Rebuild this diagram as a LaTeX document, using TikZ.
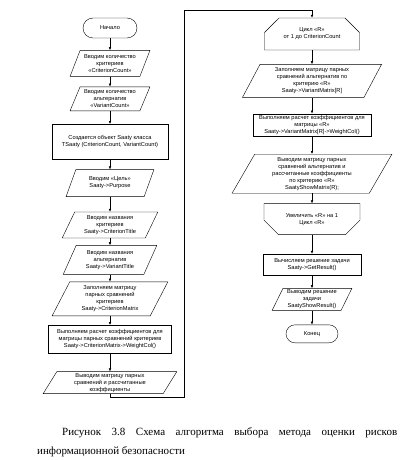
\documentclass[tikz,border=0pt]{standalone}
\usepackage{fontspec}
\setmainfont{Liberation Serif}
\setsansfont{Liberation Sans}
\usetikzlibrary{arrows.meta,positioning,shapes.geometric,shapes.misc}

\begin{document}
\begin{tikzpicture}[x=1pt,y=1pt,
  every node/.style={align=center,font=\sffamily\fontsize{5.7}{7}\selectfont,inner sep=.5pt},
  term/.style={draw,rounded rectangle,minimum width=55pt,minimum height=20pt},
  io/.style={draw,trapezium,trapezium left angle=65,trapezium right angle=115,trapezium stretches=true},
  proc/.style={draw,rectangle},
  loopbeg/.style={draw,chamfered rectangle,chamfered rectangle corners={north west,north east},chamfered rectangle xsep=7pt,chamfered rectangle ysep=8pt},
  loopfin/.style={draw,chamfered rectangle,chamfered rectangle corners={south west,south east},chamfered rectangle xsep=7pt,chamfered rectangle ysep=8pt},
  arr/.style={-{Latex[length=3pt,width=2.6pt]},line width=.5pt}]
\useasboundingbox (0,0) rectangle (416,-460);
% left column
\node[term] (start) at (110,-28) {Начало};
\node[io,minimum width=80pt,minimum height=26pt,below=12pt of start] (critcount) {Вводим количество\\критериев\\«CriterionCount»};
\node[io,minimum width=80pt,minimum height=24pt,below=10pt of critcount] (varcount) {Вводим количество\\альтернатив\\«VariantCount»};
\node[proc,minimum width=116pt,minimum height=35pt,below=13pt of varcount] (saaty) {Создается объект Saaty класса\\TSaaty (CriterionCount, VariantCount)};
\node[io,minimum width=88pt,minimum height=27pt,below=10pt of saaty] (purpose) {Вводим «Цель»\\Saaty->Purpose};
\node[io,minimum width=96pt,minimum height=26pt,below=15pt of purpose] (crittitle) {Вводим названия\\критериев\\Saaty->CriterionTitle};
\node[io,minimum width=94pt,minimum height=29pt,below=7pt of crittitle] (vartitle) {Вводим названия\\альтернатив\\Saaty->VariantTitle};
\node[io,minimum width=116pt,minimum height=34pt,below=7pt of vartitle] (critmatrix) {Заполняем матрицу\\парных сравнений\\критериев\\Saaty->CriterionMatrix};
\node[proc,minimum width=123pt,minimum height=28pt,below=9pt of critmatrix] (critweight) {Выполняем расчет коэффициентов для\\матрицы парных сравнений критериев\\Saaty->CriterionMatrix->WeightCol()};
\node[io,minimum width=134pt,minimum height=22pt,below=18pt of critweight] (critshow) {Выводим матрицу парных\\сравнений и рассчитанные\\коэффициенты};
% right column
\node[loopbeg,minimum width=95pt,minimum height=32pt] (loopR) at (312,-34) {Цикл «R»\\от 1 до CriterionCount};
\node[io,minimum width=140pt,minimum height=33pt,below=14pt of loopR] (varmatrix) {Заполняем матрицу парных\\сравнений альтернатив по\\критерию «R»\\Saaty->VariantMatrix[R]};
\node[proc,minimum width=118pt,minimum height=22pt,below=16pt of varmatrix] (varweight) {Выполняем расчет коэффициентов для\\матрицы «R»\\Saaty->VariantMatrix[R]->WeightCol()};
\node[io,minimum width=160pt,minimum height=39pt,below=18pt of varweight] (varshow) {Выводим матрицу парных\\сравнений альтернатив и\\рассчитанные коэффициенты\\по критерию «R»\\SaatyShowMatrix(R);};
\node[loopfin,minimum width=96pt,minimum height=31pt,below=10pt of varshow] (loopRend) {Увеличить «R» на 1\\Цикл «R»};
\node[proc,minimum width=98pt,minimum height=21pt,below=19pt of loopRend] (result) {Вычисляем решение задачи\\Saaty->GetResult()};
\node[io,minimum width=80pt,minimum height=22pt,below=13pt of result] (resshow) {Выводим решение\\задачи\\SaatyShowResult()};
\node[term,minimum width=53pt,minimum height=18pt,below=14pt of resshow] (stop) {Конец};
% connectors
\draw[arr] (start.south)--(critcount.north);
\draw[arr] (critcount.south)--(varcount.north);
\draw[arr] (varcount.south)--(saaty.north);
\draw[arr] (saaty.south)--(purpose.north);
\draw[arr] (purpose.south)--(crittitle.north);
\draw[arr] (crittitle.south)--(vartitle.north);
\draw[arr] (vartitle.south)--(critmatrix.north);
\draw[arr] (critmatrix.south)--(critweight.north);
\draw[arr] (critweight.south)--(critshow.north);
\coordinate (backlow) at (184,-397);
\coordinate (backtop) at (184,-10);
\draw[arr] (critshow.south) |- (backlow) -- (backtop) -| (loopR.north);
\draw[arr] (loopR.south)--(varmatrix.north);
\draw[arr] (varmatrix.south)--(varweight.north);
\draw[arr] (varweight.south)--(varshow.north);
\draw[arr] (varshow.south)--(loopRend.north);
\draw[arr] (loopRend.south)--(result.north);
\draw[arr] (result.south)--(resshow.north);
\draw[arr] (resshow.south)--(stop.north);
% caption
\node[anchor=north west,text width=360pt,align=justify,inner sep=0pt,font=\rmfamily\fontsize{11}{19}\selectfont] (caption) at (37,-427) {\hyphenpenalty=10000\hspace*{25pt}Рисунок 3.8 Схема алгоритма выбора метода оценки рисков информационной безопасности};
\end{tikzpicture}
\end{document}
